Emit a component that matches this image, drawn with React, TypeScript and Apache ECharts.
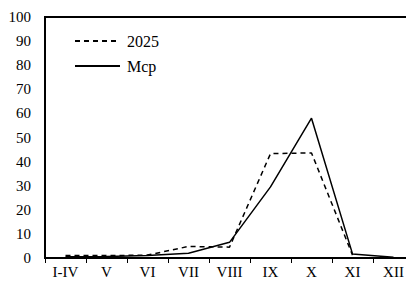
import React, { useEffect, useRef } from "react";
import * as echarts from "echarts";

const categories = ["I-IV", "V", "VI", "VII", "VIII", "IX", "X", "XI", "XII"];
const series2025 = [1, 1, 1.2, 4.8, 4.5, 43.3, 43.6, 1.2, null];
const seriesMcp = [0.5, 0.6, 1, 2, 6.5, 29.5, 58, 1.7, 0.3];
const yTicks = { min: 0, max: 100, interval: 10 };

export default function App() {
  const ref = useRef<HTMLDivElement>(null);
  useEffect(() => {
    if (!ref.current) return;
    const chart = echarts.init(ref.current, null, { renderer: "svg" });
    const font = "Liberation Serif";
    chart.setOption({
      animation: false,
      textStyle: { fontFamily: font },
      grid: {
        left: 45,
        top: 17,
        bottom: 27,
        width: 372,
        show: true,
        borderColor: "#000",
        borderWidth: 2,
        containLabel: false,
      },
      legend: {
        orient: "vertical",
        left: 74,
        top: 33,
        itemWidth: 45,
        itemHeight: 16,
        itemGap: 9,
        padding: 0,
        itemStyle: { opacity: 0 },
        textStyle: { fontFamily: font, fontSize: 16, color: "#000", padding: [0, 0, 0, 2] },
        data: ["2025", "Mcp"],
      },
      xAxis: {
        type: "category",
        data: categories,
        boundaryGap: true,
        axisLine: { show: true, lineStyle: { color: "#000", width: 2 } },
        axisTick: { show: true, length: 5, inside: false, lineStyle: { color: "#000", width: 1 } },
        axisLabel: { color: "#000", fontSize: 15, fontFamily: font, margin: 6 },
        splitLine: { show: false },
      },
      yAxis: {
        type: "value",
        min: yTicks.min,
        max: yTicks.max,
        interval: yTicks.interval,
        axisLine: { show: true, lineStyle: { color: "#000", width: 2 } },
        axisTick: { show: false },
        axisLabel: { color: "#000", fontSize: 15, fontFamily: font, margin: 14 },
        splitLine: { show: false },
      },
      series: [
        {
          name: "2025",
          type: "line",
          data: series2025,
          symbol: "none",
          lineStyle: { color: "#000", width: 1.5, type: [5, 4] },
          itemStyle: { color: "#000" },
        },
        {
          name: "Mcp",
          type: "line",
          data: seriesMcp,
          symbol: "none",
          lineStyle: { color: "#000", width: 1.5, type: "solid" },
          itemStyle: { color: "#000" },
        },
      ],
    });
    return () => chart.dispose();
  }, []);
  return <div ref={ref} style={{ width: 414, height: 285, margin: -8 }} />;
}
